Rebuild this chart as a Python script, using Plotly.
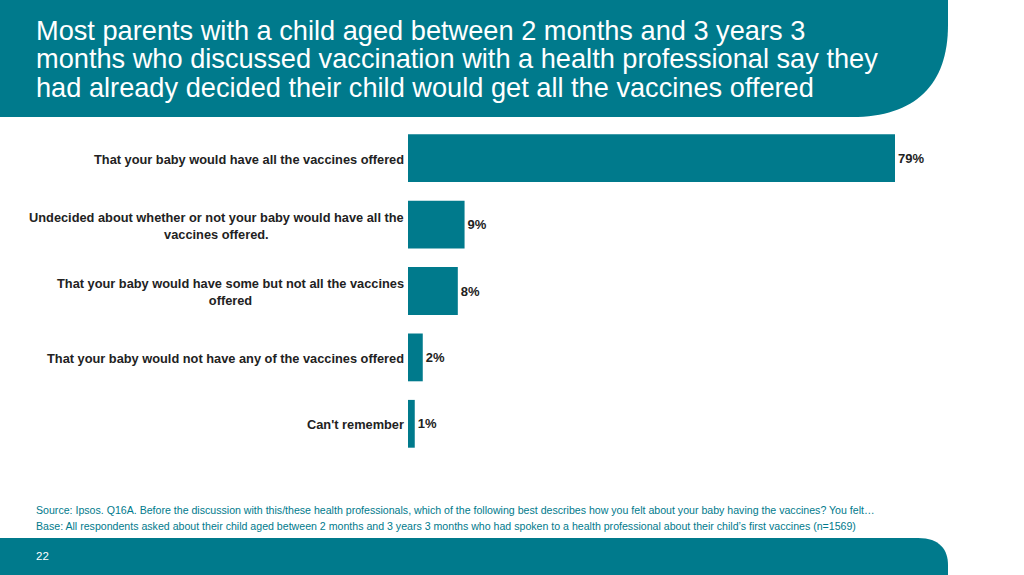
import plotly.graph_objects as go

# data
categories = [
    "That your baby would have all the vaccines offered",
    "Undecided about whether or not your baby would have all the<br>vaccines offered.",
    "That your baby would have some but not all the vaccines<br>offered",
    "That your baby would not have any of the vaccines offered",
    "Can't remember",
]
values = [79.2, 9.2, 8.1, 2.4, 1.1]
value_labels = ["79%", "9%", "8%", "2%", "1%"]

title_lines = [
    "Most parents with a child aged between 2 months and 3 years 3",
    "months who discussed vaccination with a health professional say they",
    "had already decided their child would get all the vaccines offered",
]
source_text = ("Source: Ipsos. Q16A. Before the discussion with this/these health professionals, "
               "which of the following best describes how you felt about your baby having the vaccines? You felt\u2026")
base_text = ("Base: All respondents asked about their child aged between 2 months and 3 years 3 months "
             "who had spoken to a health professional about their child\u2019s first vaccines (n=1569)")
page_no = "22"

TEAL = "#007A8C"
FONT = "Liberation Sans, Arial, sans-serif"

# page geometry (pixels) -> paper coords
W, H = 1024, 575
L, R, T, B = 408, 92, 125, 118
PW, PH = W - L - R, H - T - B


def px(x):
    return (x - L) / PW


def py(y):
    return (H - B - y) / PH


fig = go.Figure()
fig.add_trace(go.Bar(
    x=values, y=categories, orientation="h",
    marker=dict(color=TEAL, line=dict(width=0)),
    text=["<b>" + v + "</b>" for v in value_labels],
    textposition="outside", cliponaxis=False,
    textfont=dict(family=FONT, size=13, color="#222222"),
    hoverinfo="skip",
))

# category labels, centred multi-line like the original
for c in categories:
    fig.add_annotation(x=0, xref="paper", y=c, yref="y", text="<b>" + c + "</b>",
                       showarrow=False, xanchor="right", align="center", xshift=-2, yshift=-1,
                       font=dict(family=FONT, size=12.8, color="#222222"))

# header band with rounded bottom-right corner
fig.add_shape(type="path", xref="paper", yref="paper", layer="below",
              path=(f"M {px(0)},{py(0)} L {px(948)},{py(0)} L {px(948)},{py(25)} "
                    f"C {px(948)},{py(85)} {px(915)},{py(117)} {px(852)},{py(117)} "
                    f"L {px(0)},{py(117)} Z"),
              fillcolor=TEAL, line=dict(width=0))

# footer band with rounded top-right corner
fig.add_shape(type="path", xref="paper", yref="paper", layer="below",
              path=(f"M {px(0)},{py(538)} L {px(918)},{py(538)} "
                    f"C {px(940)},{py(538)} {px(948)},{py(550)} {px(948)},{py(565)} "
                    f"L {px(948)},{py(575)} L {px(0)},{py(575)} Z"),
              fillcolor=TEAL, line=dict(width=0))

for line, yy in zip(title_lines, [30, 59, 88]):
    fig.add_annotation(x=px(34), y=py(yy), xref="paper", yref="paper", text=line,
                       showarrow=False, xanchor="left", yanchor="middle",
                       font=dict(family=FONT, size=27.2, color="white"))

for txt, yy in zip([source_text, base_text], [510, 526]):
    fig.add_annotation(x=px(34), y=py(yy), xref="paper", yref="paper", text=txt,
                       showarrow=False, xanchor="left", yanchor="middle",
                       font=dict(family=FONT, size=10.6, color=TEAL))

fig.add_annotation(x=px(34), y=py(556), xref="paper", yref="paper", text=page_no,
                   showarrow=False, xanchor="left", yanchor="middle",
                   font=dict(family=FONT, size=11.5, color="white"))

fig.update_layout(
    width=W, height=H,
    margin=dict(l=L, r=R, t=T, b=B),
    paper_bgcolor="white", plot_bgcolor="white",
    bargap=0.28, showlegend=False,
    xaxis=dict(range=[0, PW / (487 / 79.2)], visible=False, fixedrange=True),
    yaxis=dict(autorange="reversed", showticklabels=False, showgrid=False,
               zeroline=False, showline=False, ticks="", fixedrange=True),
    font=dict(family=FONT),
)

# page body has a default 8px margin; drop it so the slide sits at the corner
fig.write_html("out.html", config={"displayModeBar": False},
               post_script="document.body.style.margin='0';")
